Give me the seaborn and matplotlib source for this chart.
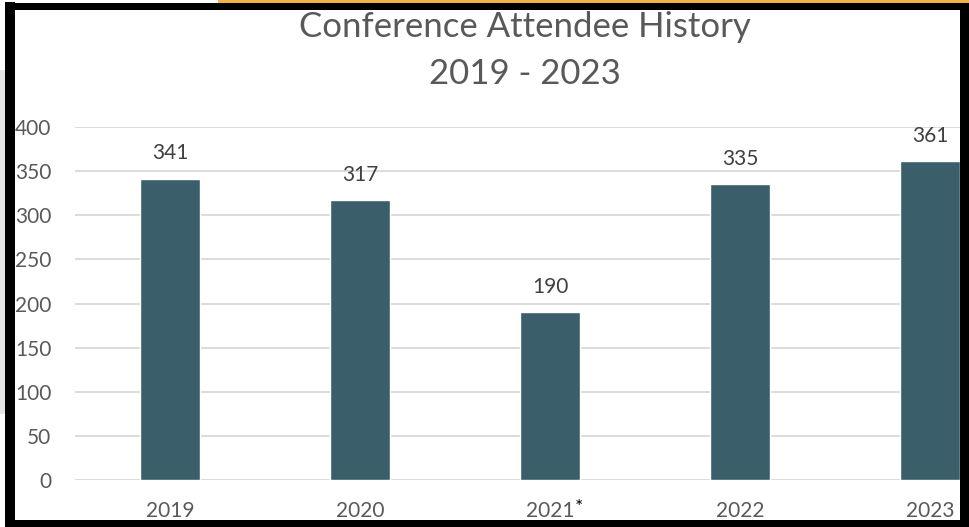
import matplotlib
matplotlib.use("Agg")
import matplotlib.pyplot as plt
from matplotlib.patches import Rectangle
import seaborn as sns
import pandas as pd

years = ["2019", "2020", "2021", "2022", "2023"]
attendees = [341, 317, 190, 335, 361]
y_ticks = [0, 50, 100, 150, 200, 250, 300, 350, 400]
title_lines = ["Conference Attendee History", "2019 - 2023"]

sns.set_theme(style="white")
plt.rcParams["font.family"] = ["Lato", "DejaVu Sans"]

W, H = 969, 527
fig = plt.figure(figsize=(W / 100, H / 100), dpi=100)
fig.patch.set_facecolor("white")

def px(x0, y0, x1, y1):
    # convert pixel box (top-left origin) to figure fraction rect
    return (x0 / W, 1 - y1 / H, (x1 - x0) / W, (y1 - y0) / H)

l, b, w, h = px(75, 127, 1025, 480)
ax = fig.add_axes([l, b, w, h])

df = pd.DataFrame({"year": years, "attendees": attendees})
sns.barplot(data=df, x="year", y="attendees", color="#3A5F6B", width=0.316,
            saturation=1, ax=ax, zorder=3)

ax.set_xlim(-0.5, 4.5)
ax.set_ylim(0, 400)
ax.set_yticks(y_ticks)
ax.set_xlabel("")
ax.set_ylabel("")
for s in ax.spines.values():
    s.set_visible(False)
ax.yaxis.grid(True, color="#D9D9D9", linewidth=1.3, zorder=0)
ax.set_axisbelow(True)
ax.tick_params(axis="y", length=0, pad=17, labelsize=15, labelcolor="#595959")
ax.tick_params(axis="x", length=0, pad=15, labelsize=15, labelcolor="#595959")

for i, v in enumerate(attendees):
    ax.annotate(str(v), xy=(i, v), xytext=(0, 18.5), textcoords="offset points",
                ha="center", va="center", fontsize=15, color="#404040",
                clip_on=False)

ax.annotate("*", xy=(2, 0), xytext=(21, -20), textcoords="offset points",
            ha="center", va="center", fontsize=14, color="black",
            annotation_clip=False)

fig.text(525 / W, 1 - 27 / H, title_lines[0], ha="center", va="center",
         fontsize=25, color="#595959")
fig.text(525 / W, 1 - 74 / H, title_lines[1], ha="center", va="center",
         fontsize=25, color="#595959")

# screenshot decorations: orange strip, gray strip, black frame
decor = [
    ((218, 0, 969, 3), "#F4B04A"),
    ((0, 70, 5, 414), "#E6E6E6"),
    ((5, 2, 15, 527), "black"),
    ((5, 3, 969, 10), "black"),
    ((960, 3, 969, 527), "black"),
    ((5, 520, 969, 527), "black"),
]
for (x0, y0, x1, y1), c in decor:
    rx, ry, rw, rh = px(x0, y0, x1, y1)
    fig.patches.append(Rectangle((rx, ry), rw, rh, transform=fig.transFigure,
                                 facecolor=c, edgecolor="none", zorder=10))

fig.savefig("out.png", dpi=100)
